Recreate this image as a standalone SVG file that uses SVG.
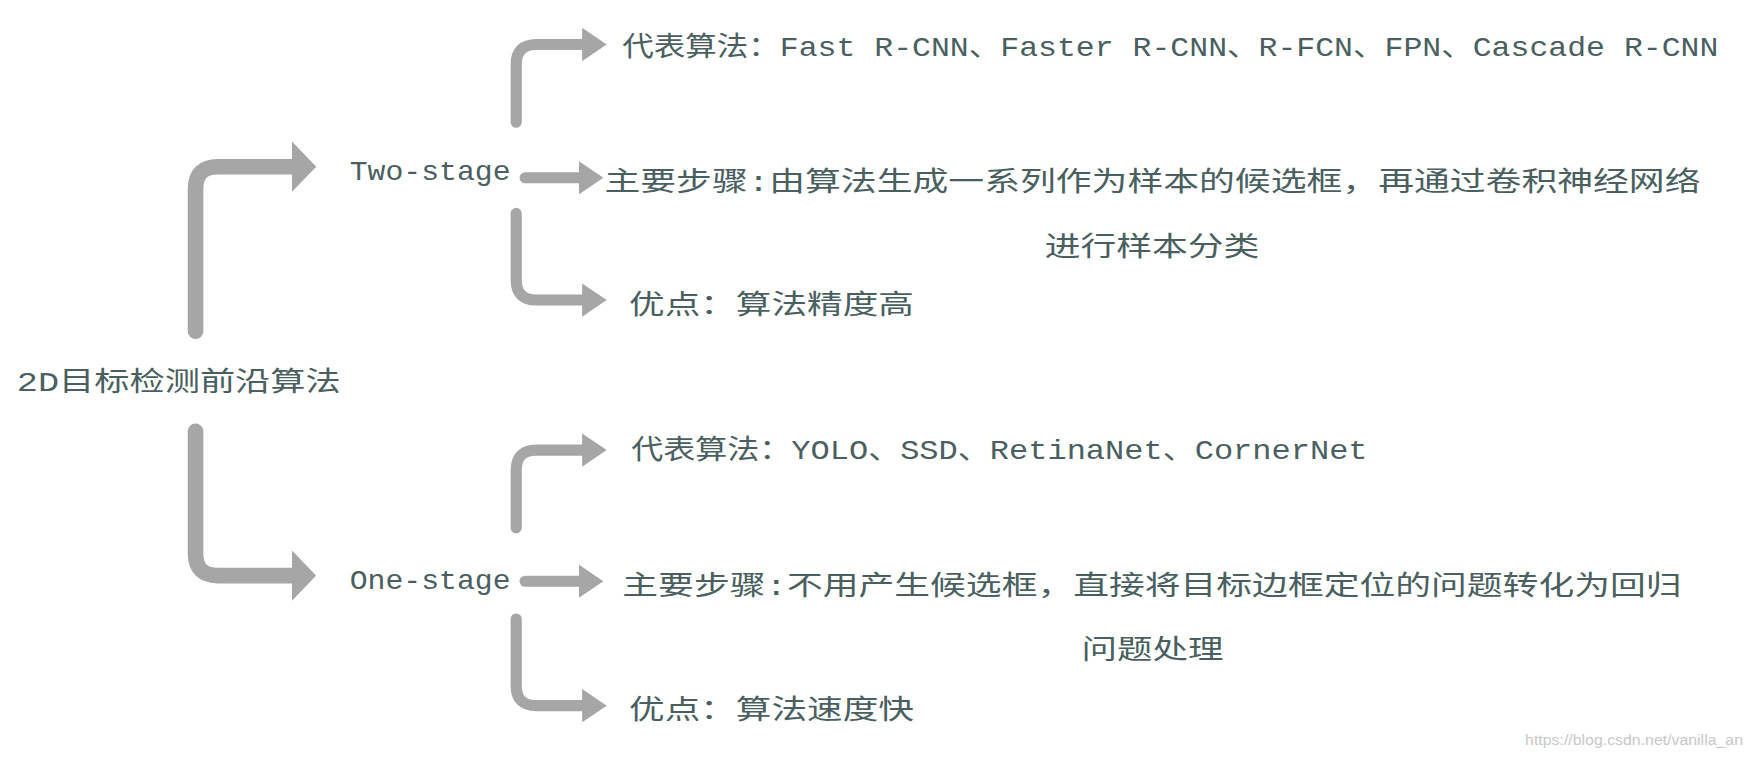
<svg xmlns="http://www.w3.org/2000/svg" width="1752" height="759" viewBox="0 0 1752 759">
<defs>
<style>
.c{fill:none;stroke:#a6a6a6;stroke-linecap:round;stroke-linejoin:round}
.b{stroke-width:14}
.s{stroke-width:10}
text{fill:#4a5f5f;font-family:"Liberation Mono","Noto Sans CJK SC",monospace;font-size:25px}
</style>
<marker id="hb" markerUnits="userSpaceOnUse" viewBox="0 0 22 46" refX="2" refY="23" markerWidth="22" markerHeight="46" orient="auto"><path d="M0,0 L22,23 L0,46 Z" fill="#a6a6a6"/></marker>
<marker id="hs" markerUnits="userSpaceOnUse" viewBox="0 0 22 30" refX="2" refY="15" markerWidth="22" markerHeight="30" orient="auto"><path d="M0,0 L22,15 L0,30 Z" fill="#a6a6a6"/></marker>
</defs>
<rect width="1752" height="759" fill="#fff"/>
<g transform="scale(1.1173,1.1113)">
<g id="connectors">
<path class="c b" d="M175,298 V170 Q175,150 195,150 H263" marker-end="url(#hb)"/>
<path class="c b" d="M175,388 V498 Q175,518 195,518 H263" marker-end="url(#hb)"/>
<path class="c s" d="M462,110 V58 Q462,40 480,40 H523" marker-end="url(#hs)"/>
<path class="c s" d="M470,160 H520" marker-end="url(#hs)"/>
<path class="c s" d="M462,192 V252 Q462,270 480,270 H523" marker-end="url(#hs)"/>
<path class="c s" d="M462,475 V423 Q462,405 480,405 H523" marker-end="url(#hs)"/>
<path class="c s" d="M470,523 H520" marker-end="url(#hs)"/>
<path class="c s" d="M462,557 V617 Q462,635 480,635 H523" marker-end="url(#hs)"/>
</g>
<g id="root"><text x="15" y="352" textLength="290" lengthAdjust="spacingAndGlyphs" font-size="27">2D目标检测前沿算法</text></g>
<g id="two-stage"><text x="313" y="162" textLength="144" lengthAdjust="spacingAndGlyphs">Two-stage</text></g>
<g id="one-stage"><text x="313" y="530" textLength="144" lengthAdjust="spacingAndGlyphs">One-stage</text></g>
<g id="t1"><text x="557" y="50" textLength="981" lengthAdjust="spacingAndGlyphs">代表算法：Fast R-CNN、Faster R-CNN、R-FCN、FPN、Cascade R-CNN</text></g>
<g id="t2"><text x="541" y="172" textLength="981" lengthAdjust="spacingAndGlyphs">主要步骤:由算法生成一系列作为样本的候选框，再通过卷积神经网络</text>
<text x="935" y="230" textLength="192" lengthAdjust="spacingAndGlyphs">进行样本分类</text></g>
<g id="t3"><text x="563" y="283" textLength="255" lengthAdjust="spacingAndGlyphs">优点：算法精度高</text></g>
<g id="o1"><text x="565" y="413" textLength="659" lengthAdjust="spacingAndGlyphs">代表算法：YOLO、SSD、RetinaNet、CornerNet</text></g>
<g id="o2"><text x="557" y="535" textLength="948" lengthAdjust="spacingAndGlyphs">主要步骤:不用产生候选框，直接将目标边框定位的问题转化为回归</text>
<text x="968" y="593" textLength="127" lengthAdjust="spacingAndGlyphs">问题处理</text></g>
<g id="o3"><text x="563" y="647" textLength="255" lengthAdjust="spacingAndGlyphs">优点：算法速度快</text></g>
<text x="1365" y="670" textLength="195" lengthAdjust="spacingAndGlyphs" style="fill:#c8c8c8;font-family:'Liberation Sans',sans-serif;font-size:13px">https://blog.csdn.net/vanilla_an</text>
</g>
</svg>
